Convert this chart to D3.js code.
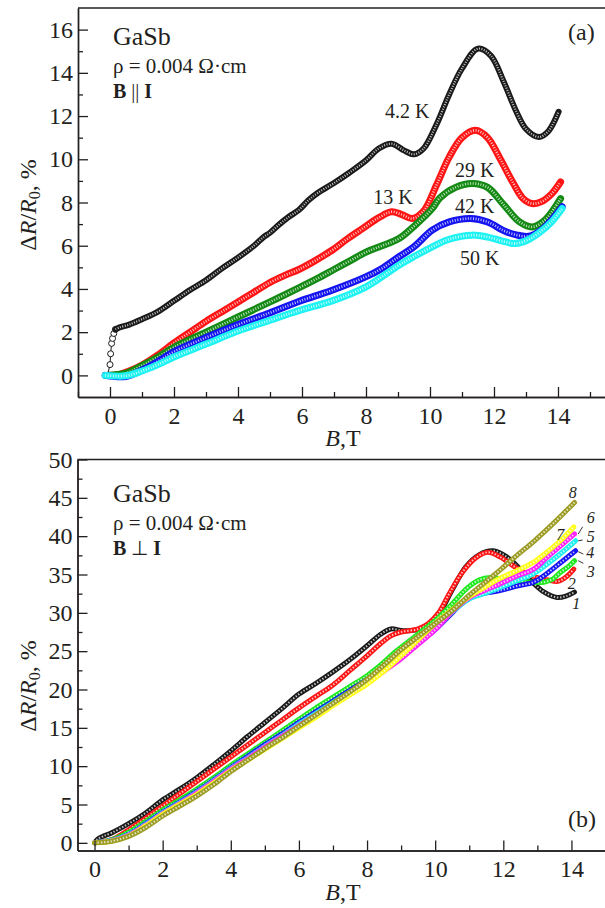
<!DOCTYPE html>
<html>
<head>
<meta charset="utf-8">
<script src="https://cdn.jsdelivr.net/npm/d3@7"></script>
<style>
  body { margin: 0; background: #fff; }
  svg { display: block; }
  text { font-family: "Liberation Serif", "Times New Roman", serif; fill: #231f20; }
</style>
</head>
<body>
<svg id="chart" width="605" height="908"></svg>
<script>
// ---------- Panel (a): GaSb, B || I — ΔR/R0 (%) vs B (T) at five temperatures ----------
const tempLabelsA = ["4.2 K", "13 K", "29 K", "42 K", "50 K"];

const mrA_4K2 = [[-0.08,0],[0,0.5],[0.02,1.0],[0.05,1.48],[0.08,1.71],[0.12,1.94],[0.17,2.13],
  [0.3,2.22],[0.6,2.35],[1.0,2.6],[1.5,2.95],[2,3.45],[2.5,3.95],[3,4.4],[3.5,4.95],[4,5.45],
  [4.5,6.0],[4.8,6.4],[5.0,6.6],[5.3,7.0],[5.6,7.35],[5.9,7.65],[6.2,8.1],[6.5,8.45],[7,8.9],
  [7.5,9.4],[8,9.95],[8.4,10.5],[8.8,10.72],[9.2,10.4],[9.5,10.23],[9.8,10.5],[10.2,11.6],
  [10.6,13.0],[11,14.2],[11.5,15.12],[11.9,14.8],[12.3,13.6],[12.7,12.2],[13.0,11.4],
  [13.4,11.03],[13.7,11.3],[14.02,12.2]];
const mrA_13K = [[-0.1,0],[0.3,0.05],[0.6,0.2],[1.0,0.48],[1.5,0.95],[2,1.5],[2.5,2.0],[3,2.5],
  [3.5,2.95],[4,3.4],[4.5,3.85],[5,4.3],[5.5,4.65],[5.9,4.9],[6.4,5.3],[6.94,5.79],[7.4,6.3],
  [7.9,6.8],[8.4,7.3],[8.8,7.57],[9.1,7.45],[9.45,7.26],[9.8,7.6],[10.2,8.8],[10.6,10.1],
  [11.0,11.0],[11.42,11.34],[11.8,11.0],[12.2,10.0],[12.6,8.9],[12.9,8.2],[13.19,7.95],
  [13.5,8.05],[13.8,8.4],[14.08,8.95]];
const mrA_29K = [[-0.1,0],[0.5,0.1],[1,0.45],[1.5,0.85],[2,1.3],[3,2.0],[4,2.7],[5,3.4],
  [5.9,4.05],[6.5,4.5],[7,4.9],[7.5,5.3],[8,5.7],[8.5,6.0],[9.03,6.33],[9.5,6.9],[10.07,7.72],
  [10.3,8.2],[10.8,8.7],[11.32,8.88],[11.8,8.7],[12.3,7.9],[12.8,7.1],[13.19,6.87],[13.6,7.2],
  [14.08,8.18]];
const mrA_42K = [[-0.15,0],[0.5,-0.05],[1,0.25],[1.5,0.65],[2,1.1],[3,1.75],[4,2.35],[5,2.9],
  [5.9,3.42],[6.94,3.94],[7.99,4.56],[8.5,4.95],[9.03,5.49],[9.5,5.95],[10.07,6.72],[10.6,7.1],
  [11.27,7.26],[11.8,7.1],[12.3,6.7],[12.7,6.5],[13.09,6.44],[13.5,6.75],[13.8,7.2],[14.13,7.8]];
const mrA_50K = [[-0.15,0],[0.5,-0.02],[1,0.2],[1.5,0.5],[2,0.85],[3,1.45],[4,2.05],[5,2.55],
  [5.9,3.0],[6.94,3.45],[8,4.1],[9.03,5.1],[9.5,5.5],[10.07,5.95],[10.6,6.3],[11.32,6.49],
  [11.8,6.4],[12.3,6.2],[12.67,6.1],[13.1,6.3],[13.5,6.7],[13.8,7.1],[14.13,7.72]];

const xTicksA = [0, 2, 4, 6, 8, 10, 12, 14];
const yTicksA = [0, 2, 4, 6, 8, 10, 12, 14, 16];

// ---------- Panel (b): GaSb, B ⊥ I — curves 1–8 ----------
const curveLabelsB = ["1", "2", "3", "4", "5", "6", "7", "8"];

const mrB_1 = [[0,0],[0.1,0.5],[0.25,0.85],[0.5,1.3],[1,2.5],[1.5,3.9],[2,5.6],[2.5,7.0],[3,8.5],
  [3.5,10.2],[4,12.0],[4.5,13.9],[5,15.7],[5.5,17.5],[6,19.4],[6.5,20.8],[7,22.3],[7.5,23.9],
  [8,25.7],[8.4,27.2],[8.7,27.9],[9.0,27.7],[9.3,27.7],[9.6,27.9],[9.95,28.8],[10.2,30.5],
  [10.5,33.0],[10.9,36.0],[11.3,37.6],[11.7,38.1],[12.1,37.3],[12.5,35.7],[12.9,33.8],
  [13.2,32.7],[13.58,32.0],[13.85,32.2],[14.09,32.7]];
const mrB_2 = [[0,0],[0.3,0.2],[0.6,0.6],[1,1.7],[1.5,3.2],[2,4.8],[2.5,6.4],[3,8.0],[3.5,9.6],
  [4,11.2],[4.5,12.8],[5,14.4],[5.5,16.0],[6,17.6],[6.5,19.1],[7,20.6],[7.5,22.5],[8,24.4],
  [8.4,26.0],[8.7,27.0],[9.0,27.5],[9.5,27.9],[9.8,28.6],[10.1,30.0],[10.4,32.4],[10.8,35.3],
  [11.2,37.2],[11.55,37.9],[11.9,37.3],[12.3,36.1],[12.7,35.1],[13.0,34.6],[13.3,34.3],
  [13.6,34.1],[13.85,34.7],[14.07,35.7]];
const mrB_3 = [[0,0],[0.5,0.4],[1,1.4],[1.5,2.8],[2,4.3],[2.5,5.6],[3,7.0],[3.5,8.5],[4,10.1],
  [4.5,11.6],[5,13.1],[5.5,14.6],[6,16.1],[6.5,17.6],[7,19.0],[7.5,20.4],[8,21.8],[8.4,23.2],
  [8.8,24.8],[9.2,26.2],[9.6,27.6],[10,29.0],[10.44,30.9],[10.93,33.2],[11.3,34.3],[11.62,34.6],
  [12,34.4],[12.4,34.2],[12.8,34.0],[13.19,34.0],[13.45,34.4],[13.68,35.3],[13.9,36.0],[14.09,36.8]];
const mrB_4 = [[0,0],[0.5,0.3],[1,1.1],[1.5,2.5],[2,4.0],[2.5,5.3],[3,6.7],[3.5,8.2],[4,9.8],
  [4.5,11.3],[5,12.8],[5.5,14.2],[6,15.7],[6.5,17.1],[7,18.5],[7.5,19.9],[8,21.3],[8.5,22.8],
  [9,24.3],[9.5,26.0],[10,27.8],[10.5,30.0],[10.93,31.8],[11.4,32.5],[11.9,32.9],[12.4,33.5],
  [12.89,34.0],[13.3,35.2],[13.7,36.6],[14.12,38.1]];
const mrB_5 = [[0,0],[0.5,0.3],[1,1.05],[1.5,2.4],[2,3.9],[2.5,5.2],[3,6.6],[3.5,8.1],[4,9.7],
  [4.5,11.1],[5,12.6],[5.5,14.0],[6,15.5],[6.5,16.9],[7,18.3],[7.5,19.7],[8,21.1],[8.5,22.6],
  [9,24.2],[9.5,26.0],[10,27.9],[10.5,30.1],[11,31.8],[11.5,32.6],[11.91,33.3],[12.4,34.2],
  [12.89,35.1],[13.3,36.4],[13.7,37.8],[14.12,39.4]];
const mrB_6 = [[0,0],[0.5,0.25],[1,1.0],[1.5,2.3],[2,3.8],[2.5,5.1],[3,6.5],[3.5,8.0],[4,9.6],
  [4.5,11.0],[5,12.5],[5.5,13.9],[6,15.3],[6.5,16.7],[7,18.1],[7.5,19.5],[8,20.9],[8.5,22.4],
  [9,24.0],[9.5,25.9],[10,27.8],[10.5,30.2],[11,32.0],[11.5,33.0],[11.91,33.8],[12.4,34.8],
  [12.89,35.7],[13.3,37.3],[13.7,38.8],[14.09,40.3]];
const mrB_7 = [[0,0],[0.5,0.2],[1,0.9],[1.5,2.2],[2,3.7],[2.5,5.0],[3,6.3],[3.5,7.8],[4,9.4],
  [4.5,10.8],[5,12.2],[5.5,13.6],[6,15.0],[6.5,16.4],[7,17.9],[7.5,19.3],[8,20.7],[8.5,22.4],
  [9,24.4],[9.5,26.5],[10,28.6],[10.5,30.4],[10.93,31.9],[11.4,33.2],[11.91,34.5],[12.4,35.5],
  [12.89,36.6],[13.3,38.0],[13.7,39.5],[14.07,41.2]];
const mrB_8 = [[0,0],[0.5,0.2],[1,0.85],[1.5,2.0],[2,3.5],[2.5,4.8],[3,6.1],[3.5,7.6],[4,9.3],
  [4.5,10.8],[5,12.3],[5.5,13.7],[6,15.2],[6.5,16.7],[7,18.2],[7.5,19.7],[8,21.3],[8.5,23.2],
  [9,25.2],[9.5,26.9],[10,28.6],[10.5,30.3],[11,32.3],[11.5,34.1],[11.91,35.6],[12.4,37.5],
  [12.89,39.3],[13.5,41.8],[14.09,44.4]];

const xTicksB = [0, 2, 4, 6, 8, 10, 12, 14];
const yTicksB = [0, 5, 10, 15, 20, 25, 30, 35, 40, 45, 50];

// ---------- drawing ----------
const svg = d3.select("#chart");
const ink = "#231f20";
const serif = '"Liberation Serif", "Times New Roman", serif';

// Thick hatched band: a coloured stroke with a dashed white core,
// which gives the look of densely packed open markers.
function band(g, data, x, y, color, w, core, dash) {
  const line = d3.line().x(d => x(d[0])).y(d => y(d[1])).curve(d3.curveCatmullRom.alpha(0.5));
  g.append("path").attr("d", line(data)).attr("fill", "none")
    .attr("stroke", color).attr("stroke-width", w)
    .attr("stroke-linejoin", "round").attr("stroke-linecap", "round");
  g.append("path").attr("d", line(data)).attr("fill", "none")
    .attr("stroke", "#fff").attr("stroke-opacity", 0.75).attr("stroke-width", core)
    .attr("stroke-dasharray", dash);
}

function frame(g, x, y, xt, yt, xMinor, yMinor) {
  const [x0, x1] = x.range(), [y0, y1] = y.range();
  const ax = g.append("g").attr("transform", `translate(0,${y0})`)
    .call(d3.axisBottom(x).tickValues(xt).tickSizeInner(-10).tickSizeOuter(0).tickPadding(8));
  g.append("g").attr("transform", `translate(0,${y0})`)
    .call(d3.axisBottom(x).tickValues(xMinor).tickSizeInner(-5).tickSizeOuter(0).tickFormat(""));
  g.append("g").attr("transform", `translate(${x0},0)`)
    .call(d3.axisLeft(y).tickValues(yt).tickSizeInner(-10).tickSizeOuter(0).tickPadding(5));
  g.append("g").attr("transform", `translate(${x0},0)`)
    .call(d3.axisLeft(y).tickValues(yMinor).tickSizeInner(-5).tickSizeOuter(0).tickFormat(""));
  g.selectAll(".domain").attr("stroke", ink).attr("stroke-width", 1.4);
  g.selectAll(".tick line").attr("stroke", ink).attr("stroke-width", 1.3);
  g.selectAll(".tick text").attr("fill", ink).style("font-family", serif).style("font-size", "24px");
  ax.selectAll(".tick text").attr("dy", "0.78em");
  g.append("line").attr("x1", x0).attr("x2", x1).attr("y1", y1).attr("y2", y1)
    .attr("stroke", ink).attr("stroke-width", 1.4);
}

function yTitle(g, cx, cy) {
  const t = g.append("text").attr("transform", `translate(${cx},${cy}) rotate(-90)`)
    .attr("text-anchor", "middle").style("font-size", "24px");
  t.append("tspan").text("Δ");
  t.append("tspan").attr("font-style", "italic").text("R");
  t.append("tspan").text("/");
  t.append("tspan").attr("font-style", "italic").text("R");
  t.append("tspan").attr("baseline-shift", "-25%").style("font-size", "16px").text("0");
  t.append("tspan").text(", %");
}

function xTitle(g, cx, by) {
  const t = g.append("text").attr("x", cx).attr("y", by).attr("text-anchor", "middle")
    .style("font-size", "24px");
  t.append("tspan").attr("font-style", "italic").text("B");
  t.append("tspan").text(",T");
}

function sampleInfo(g, x0, y0, parts) {
  g.append("text").attr("x", x0).attr("y", y0).style("font-size", "26px").text("GaSb");
  g.append("text").attr("x", x0).attr("y", y0 + 28).style("font-size", "21px").text("ρ = 0.004 Ω·cm");
  const t = g.append("text").attr("x", x0).attr("y", y0 + 53).style("font-size", "20px");
  t.append("tspan").attr("font-weight", "bold").text("B");
  t.append("tspan").text(parts);
  t.append("tspan").attr("font-weight", "bold").text("I");
}

// ----- panel (a)
const xA = d3.scaleLinear().domain([-1, 15.5]).range([78, 606]);
const yA = d3.scaleLinear().domain([-1, 17]).range([397, 8]);
const gA = svg.append("g");
const seriesA = [mrA_4K2, mrA_13K, mrA_29K, mrA_42K, mrA_50K];
const colorsA = ["#1a1a1a", "#ff1414", "#138a13", "#1414f0", "#1ef2f2"];

// 4.2 K: the jump at zero field is drawn as separate open circles on a thin line
const lineA = d3.line().x(d => xA(d[0])).y(d => yA(d[1]));
const jump = mrA_4K2.filter(d => d[0] <= 0.17);
gA.append("path").attr("d", lineA(jump)).attr("fill", "none").attr("stroke", "#1a1a1a").attr("stroke-width", 1);
gA.selectAll("circle.jump").data(jump).join("circle").attr("class", "jump")
  .attr("cx", d => xA(d[0])).attr("cy", d => yA(d[1])).attr("r", 3)
  .attr("fill", "#fff").attr("stroke", "#1a1a1a").attr("stroke-width", 1);
band(gA, mrA_4K2.filter(d => d[0] >= 0.17), xA, yA, colorsA[0], 6, 2.2, "1 1.5");
for (let i = 1; i < seriesA.length; i++) band(gA, seriesA[i], xA, yA, colorsA[i], 7, 2.6, "1 1.6");

frame(gA, xA, yA, xTicksA, yTicksA, d3.range(-1, 16, 2), d3.range(1, 17, 2));
yTitle(gA, 36, 205);
xTitle(gA, 343, 446);
sampleInfo(gA, 113, 45, " || ");
gA.append("text").attr("x", 568).attr("y", 40).style("font-size", "24px").text("(a)");

const labelPosA = [[8.59, 11.91], [8.23, 7.93], [10.78, 9.19], [10.78, 7.5], [10.94, 5.11]];
tempLabelsA.forEach((s, i) => {
  gA.append("text").attr("x", xA(labelPosA[i][0])).attr("y", yA(labelPosA[i][1]))
    .style("font-size", "20px").text(s);
});

// ----- panel (b)
const xB = d3.scaleLinear().domain([-0.5, 15]).range([77.5, 605.5]);
const yB = d3.scaleLinear().domain([-1, 50]).range([850.5, 459.5]);
const gB = svg.append("g");
const seriesB = [mrB_1, mrB_2, mrB_3, mrB_4, mrB_5, mrB_6, mrB_7, mrB_8];
const colorsB = ["#1a1a1a", "#ff1414", "#1ee81e", "#1414f5", "#1ef0f0", "#ff22ff", "#ffff1a", "#9c9c24"];
seriesB.forEach((s, i) => band(gB, s, xB, yB, colorsB[i], 5, 2, "1.4 1.8"));

frame(gB, xB, yB, xTicksB, yTicksB, d3.range(-1, 16, 2).filter(v => v > -0.5), d3.range(2.5, 50, 5));
yTitle(gB, 36, 686);
xTitle(gB, 343, 900);
sampleInfo(gB, 113, 502, " ⊥ ");
gB.append("text").attr("x", 568).attr("y", 827).style("font-size", "24px").text("(b)");

const labelPosB = [[14.14, 30.46], [14.01, 33.1], [14.57, 34.63], [14.55, 37.1],
                   [14.57, 39.27], [14.57, 41.71], [13.67, 39.49], [14.04, 44.97]];
curveLabelsB.forEach((s, i) => {
  gB.append("text").attr("x", xB(labelPosB[i][0])).attr("y", yB(labelPosB[i][1]))
    .attr("text-anchor", "middle").attr("font-style", "italic").style("font-size", "16px").text(s);
});
// short leaders from labels 3–6 to their curve ends
const leadersB = [[[14.2, 36.8], [14.35, 36.46]], [[14.2, 37.97], [14.35, 37.67]],
                  [[14.2, 39.4], [14.33, 39.5]], [[14.2, 40.28], [14.33, 41.23]]];
leadersB.forEach(l => {
  gB.append("line").attr("x1", xB(l[0][0])).attr("y1", yB(l[0][1]))
    .attr("x2", xB(l[1][0])).attr("y2", yB(l[1][1])).attr("stroke", ink).attr("stroke-width", 0.9);
});
</script>
</body>
</html>
